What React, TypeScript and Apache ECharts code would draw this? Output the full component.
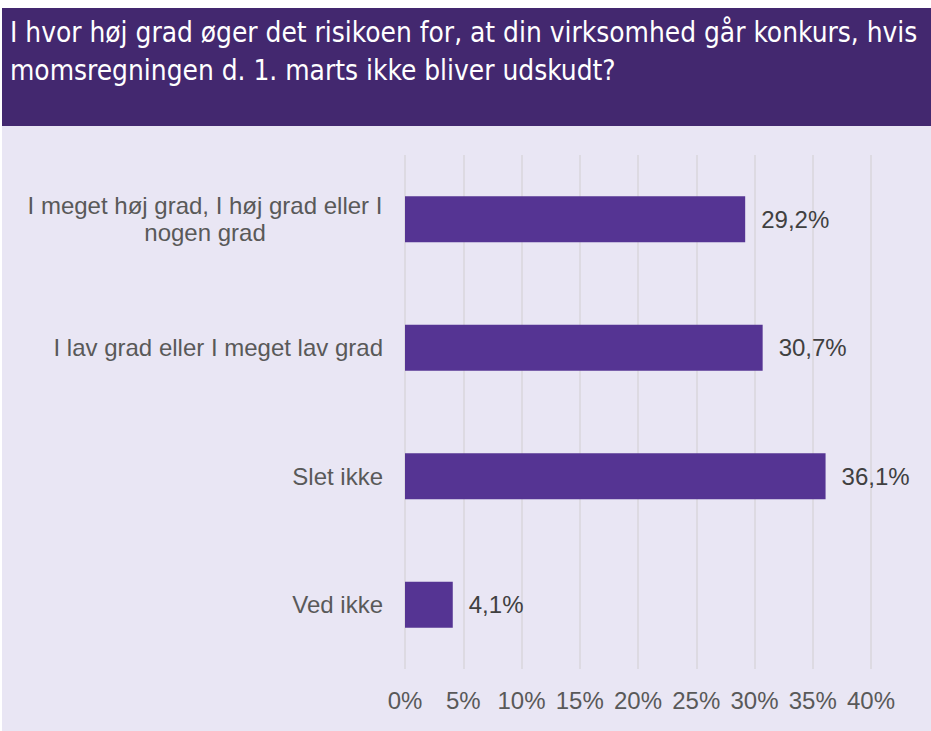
import React, { useEffect, useRef } from "react";
import * as echarts from "echarts";

const titleLines = [
  "I hvor høj grad øger det risikoen for, at din virksomhed går konkurs, hvis",
  "momsregningen d. 1. marts ikke bliver udskudt?",
];
const categories = [
  "I meget høj grad, I høj grad eller I\nnogen grad",
  "I lav grad eller I meget lav grad",
  "Slet ikke",
  "Ved ikke",
];
const values = [29.2, 30.7, 36.1, 4.1];
const xTicks = [0, 5, 10, 15, 20, 25, 30, 35, 40];

const FONT = "'Liberation Sans', Arial, sans-serif";

export default function App() {
  const ref = useRef<HTMLDivElement>(null);
  useEffect(() => {
    if (!ref.current) return;
    const chart = echarts.init(ref.current, undefined, { renderer: "svg" });
    chart.setOption({
      animation: false,
      backgroundColor: "#ffffff",
      graphic: [
        { type: "rect", shape: { x: 2, y: 8, width: 929, height: 118 }, style: { fill: "#43286f" }, silent: true },
        { type: "rect", shape: { x: 2, y: 126, width: 929, height: 605 }, style: { fill: "#e9e6f4" }, silent: true },
        {
          type: "text",
          left: 10,
          top: 13,
          style: {
            text: titleLines.join("\n"),
            fill: "#ffffff",
            font: "27.8px 'DejaVu Sans Condensed', sans-serif",
            lineHeight: 38,
          },
        },
      ],
      grid: { left: 405, right: 60, top: 155, bottom: 62, containLabel: false },
      xAxis: {
        type: "value",
        min: xTicks[0],
        max: xTicks[xTicks.length - 1],
        interval: 5,
        axisLine: { show: false },
        axisTick: { show: false },
        splitLine: { show: true, lineStyle: { color: "#d9d6dd", width: 1.5 } },
        axisLabel: {
          formatter: (v: number) => `${v}%`,
          color: "#595959",
          fontSize: 24,
          fontFamily: FONT,
          margin: 19,
        },
      },
      yAxis: {
        type: "category",
        data: categories,
        inverse: true,
        axisLine: { show: false },
        axisTick: { show: false },
        axisLabel: {
          color: "#595959",
          fontSize: 24,
          fontFamily: FONT,
          margin: 22,
          lineHeight: 27,
          formatter: (v: string) => {
            if (v.includes("\n")) {
              return v.split("\n").map((l) => `{c|${l}}`).join("\n");
            }
            return v;
          },
          rich: {
            c: {
              width: 356,
              align: "center",
              color: "#595959",
              fontSize: 24,
              fontFamily: FONT,
              lineHeight: 27,
            },
          },
        },
      },
      series: [
        {
          type: "bar",
          data: values,
          barWidth: 46,
          itemStyle: { color: "#553493" },
          label: {
            show: true,
            position: "right",
            distance: 16,
            formatter: (p: any) => `${p.value.toFixed(1).replace(".", ",")}%`,
            color: "#404040",
            fontSize: 24,
            fontFamily: FONT,
          },
        },
      ],
    });
    return () => chart.dispose();
  }, []);
  return (
    <div style={{ position: "fixed", left: 0, top: 0, width: 931, height: 731 }}>
      <div ref={ref} style={{ width: 931, height: 731 }} />
    </div>
  );
}
